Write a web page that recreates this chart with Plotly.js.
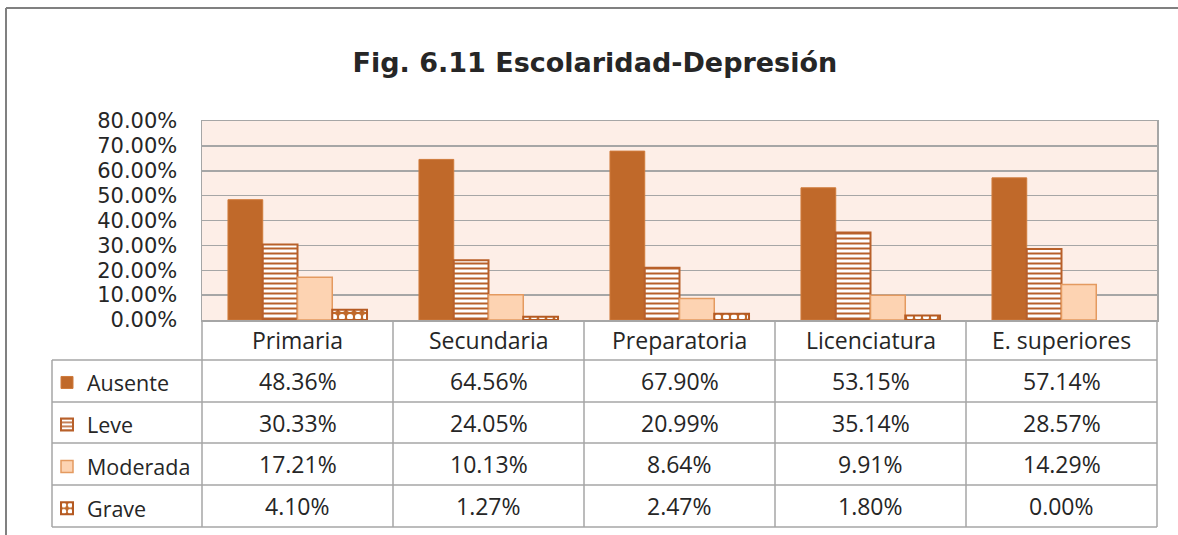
<!DOCTYPE html>
<html><head><meta charset="utf-8">
<script src="https://cdn.plot.ly/plotly-3.0.1.min.js"></script>
<style>html,body{margin:0;padding:0;background:#fff}#chart{width:1178px;height:535px}</style>
</head><body><div id="chart"></div>
<script>
// ---- data ----
const categories = ["Primaria", "Secundaria", "Preparatoria", "Licenciatura", "E. superiores"];
const seriesNames = ["Ausente", "Leve", "Moderada", "Grave"];
const ausente  = [48.36, 64.56, 67.90, 53.15, 57.14];
const leve     = [30.33, 24.05, 20.99, 35.14, 28.57];
const moderada = [17.21, 10.13, 8.64, 9.91, 14.29];
const grave    = [4.10, 1.27, 2.47, 1.80, 0.00];
const yTickVals = [0, 10, 20, 30, 40, 50, 60, 70, 80];
const titleText = "Fig. 6.11 Escolaridad-Depresión";

// ---- geometry (pixels) ----
const W = 1178, H = 535;
const PL = 202, PR = 1157, PT = 121, PB = 320;
const pw = PR - PL;
const px = x => x / W;
const py = y => 1 - y / H;
const rowEdges = [320, 360, 402, 443, 485, 527];
const tableLeft = 52;

const BROWN = "#C0692A";
const seriesValues = [ausente, leve, moderada, grave];
const styles = [
  {color: BROWN, line: {color: "#CF7B3C", width: 1}},
  {color: "#ffffff", line: {color: "#B8602A", width: 2},
   pattern: {shape: "-", bgcolor: "#ffffff", fgcolor: "#B8602A", size: 5, solidity: 0.4}},
  {color: "#FDD3B2", line: {color: "#E49A60", width: 1.5}},
  {color: BROWN, line: {color: "#B55A22", width: 2},
   pattern: {shape: ".", bgcolor: BROWN, fgcolor: "#ffffff", size: 8, solidity: 0.45}}
];

const traces = seriesValues.map((vals, i) => {
  const m = JSON.parse(JSON.stringify(styles[i]));
  m.line.width = vals.map(v => v > 0 ? styles[i].line.width : 0);
  return {type: "bar", name: seriesNames[i], x: categories, y: vals,
          marker: m, legendgroup: "g" + i, hoverinfo: "x+y+name"};
});

const tableFont = {family: "Open Sans, sans-serif", size: 23, color: "#262626"};
const legendFont = {family: "Open Sans, sans-serif", size: 21.5, color: "#262626"};
const annotations = [];
categories.forEach(c => annotations.push({
  x: c, xref: "x", y: py((rowEdges[0] + rowEdges[1]) / 2), yref: "paper",
  text: c, showarrow: false, xanchor: "center", yanchor: "middle", font: tableFont
}));
seriesValues.forEach((vals, i) => {
  const yc = py((rowEdges[i + 1] + rowEdges[i + 2]) / 2);
  vals.forEach((v, j) => annotations.push({
    x: categories[j], xref: "x", y: yc, yref: "paper",
    text: v.toFixed(2) + "%", showarrow: false, xanchor: "center", yanchor: "middle", font: tableFont
  }));
});

const gridC = "#A6A6A6";
const shapes = [];
const ln = (x0, y0, x1, y1, color, width) => shapes.push({
  type: "line", xref: "paper", yref: "paper", x0: px(x0), y0: py(y0), x1: px(x1), y1: py(y1),
  line: {color: color, width: width}, layer: "above"
});
// outer frame
ln(6, 8, 1178, 8, "#808080", 2);
ln(6, 8, 6, 535, "#808080", 2);
// table lines
for (let k = 0; k <= categories.length; k++) {
  const x = PL + k * pw / categories.length;
  ln(x, rowEdges[0], x, rowEdges[5], gridC, 1.5);
}
ln(tableLeft, rowEdges[1], tableLeft, rowEdges[5], gridC, 1.5);
for (let r = 1; r < rowEdges.length; r++) ln(tableLeft, rowEdges[r], PR, rowEdges[r], gridC, 1.5);

const layout = {
  width: W, height: H,
  margin: {l: 0, r: 0, t: 0, b: 0, pad: 0},
  paper_bgcolor: "#ffffff", plot_bgcolor: "#FDEEE7",
  title: {text: "<b>" + titleText + "</b>", xref: "container", x: 0.505, xanchor: "center",
          yref: "container", y: 1 - 63 / H, yanchor: "middle",
          font: {family: "DejaVu Sans, sans-serif", size: 27, color: "#262626"}},
  barmode: "group", bargap: 0.272, bargroupgap: 0,
  showlegend: true,
  legend: {x: px(47), xanchor: "left", y: py(362), yanchor: "top",
           font: legendFont, tracegroupgap: 11, bgcolor: "rgba(0,0,0,0)", itemclick: false},
  xaxis: {type: "category", domain: [PL / W, PR / W], showticklabels: false, ticks: "",
          showgrid: false, zeroline: false,
          showline: true, linecolor: gridC, linewidth: 1.5, mirror: true, fixedrange: true},
  yaxis: {domain: [1 - PB / H, 1 - PT / H], range: [0, 80], tickvals: yTickVals,
          ticktext: yTickVals.map(v => v.toFixed(2) + "%"),
          showgrid: true, gridcolor: gridC, gridwidth: 1.5, zeroline: false,
          showline: true, linecolor: gridC, linewidth: 1.5, mirror: true, ticks: "",
          ticklabelstandoff: 19,
          tickfont: {family: "DejaVu Sans, sans-serif", size: 21, color: "#262626"}, fixedrange: true},
  annotations: annotations, shapes: shapes
};
Plotly.newPlot("chart", traces, layout, {displayModeBar: false, staticPlot: true});
</script></body></html>
